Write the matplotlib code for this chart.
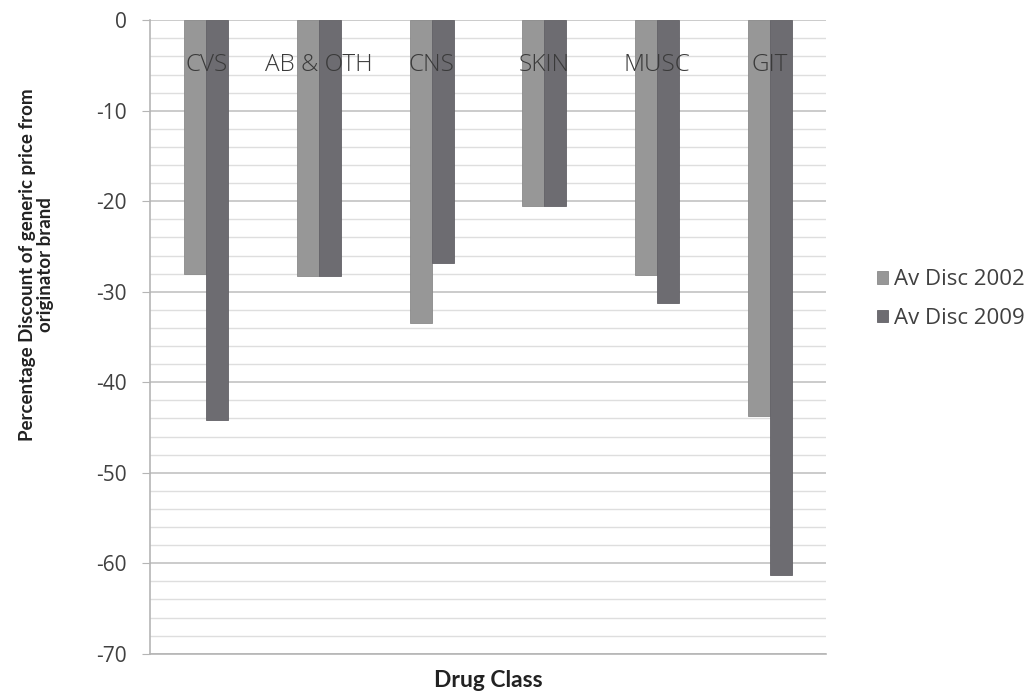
import matplotlib.pyplot as plt
import numpy as np

categories = ["CVS", "AB & OTH", "CNS", "SKIN", "MUSC", "GIT"]
disc_2002 = [-28.0, -28.3, -33.5, -20.5, -28.1, -43.7]
disc_2009 = [-44.2, -28.3, -26.8, -20.5, -31.2, -61.3]
series_labels = ["Av Disc 2002", "Av Disc 2009"]

plt.rcParams["font.family"] = ["Open Sans", "DejaVu Sans"]
plt.rcParams["axes.unicode_minus"] = False

fig = plt.figure(figsize=(10.35, 7), dpi=100)
ax = fig.add_axes([0.145, 0.066, 0.653, 0.905])

x = np.arange(len(categories))
w = 0.195
ax.bar(x - w / 2, disc_2002, w, color="#979797", edgecolor="#8a8a8a",
       linewidth=0.6, label=series_labels[0], zorder=3)
ax.bar(x + w / 2, disc_2009, w, color="#6d6c71", edgecolor="#636267",
       linewidth=0.6, label=series_labels[1], zorder=3)

# category names sit inside the plot, near the top
for xi, name in zip(x, categories):
    ax.text(xi, -4.9, name, ha="center", va="center", fontsize=17.5,
            fontweight="light", color="#3a3a3a", zorder=4)

ax.set_xlim(-0.5, len(categories) - 0.5)
ax.set_ylim(-70, 0)
ax.set_yticks(np.arange(-70, 1, 10))
ax.set_yticks(np.arange(-70, 1, 2), minor=True)
ax.grid(True, which="major", axis="y", color="#bdbdbd", linewidth=1.1, zorder=0)
ax.grid(True, which="minor", axis="y", color="#dedede", linewidth=1.0, zorder=0)
ax.set_xticks([])

for s in ["top", "right"]:
    ax.spines[s].set_visible(False)
for s in ["left", "bottom"]:
    ax.spines[s].set_color("#b5b5b5")
    ax.spines[s].set_linewidth(1.2)

ax.tick_params(axis="y", which="major", length=6, color="#b5b5b5",
               labelsize=15, labelcolor="#404040", pad=11)
ax.tick_params(axis="y", which="minor", length=0)

ax.set_ylabel("Percentage Discount of generic price from\noriginator brand",
              fontsize=13.5, fontweight="bold", color="#222222",
              family=["Lato", "DejaVu Sans"], linespacing=1.1)
ax.yaxis.set_label_coords(-0.142, 0.614)
ax.set_xlabel("Drug Class", fontsize=16.5, fontweight="bold",
              color="#222222", family=["Lato", "DejaVu Sans"], labelpad=12)

ax.legend(loc="center left", bbox_to_anchor=(1.075, 0.56), frameon=False,
          fontsize=16, handlelength=0.5, handleheight=0.5, handletextpad=0.3,
          labelspacing=0.8, borderaxespad=0, borderpad=0,
          labelcolor="#404040")

fig.savefig("out.png", dpi=100)
